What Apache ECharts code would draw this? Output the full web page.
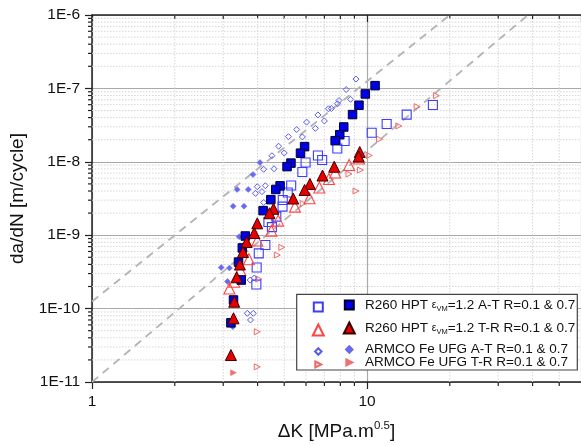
<!DOCTYPE html>
<html><head><meta charset="utf-8">
<script src="https://cdn.jsdelivr.net/npm/echarts@6/dist/echarts.min.js"></script>
<style>html,body{margin:0;padding:0;background:#fff}#c{width:581px;height:446px}</style>
</head><body><div id="c"></div>
<script>
// ---- data: [ΔK (MPa·m^0.5), da/dN (m/cycle)] ----
const R260_AT_filled = [[10.7,1.09e-7],[9.86,8.4e-8],[9.35,5.9e-8],[8.86,4.4e-8],[8.23,2.98e-8],[7.96,2.34e-8],[7.66,1.94e-8],[5.93,1.61e-8],[5.73,1.31e-8],[5.29,9.6e-9],[5.12,8.6e-9],[4.83,4.7e-9],[4.66,4.2e-9],[4.47,3.05e-9],[4.19,2.16e-9],[3.61,9.75e-10],[3.52,6.7e-10],[3.41,4.3e-10],[3.49,2.45e-10],[3.27,1.31e-10],[3.20,6.4e-11]];
const R260_AT_open = [[17.36,5.94e-8],[13.94,4.39e-8],[11.79,3.27e-8],[10.40,2.49e-8],[8.29,1.92e-8],[7.80,1.52e-8],[6.87,1.06e-8],[6.63,1.22e-8],[5.98,9.77e-9],[5.82,7.26e-9],[5.30,4.75e-9],[5.15,3.82e-9],[4.94,3.02e-9],[4.93,2.45e-9],[4.68,1.79e-9],[4.38,1.51e-9],[4.51,1.29e-9],[4.27,7.35e-10],[4.04,5.66e-10],[3.97,3.63e-10],[3.96,2.13e-10]];
const R260_TR_filled = [[9.41,1.36e-8],[9.33,1.18e-8],[7.60,8.57e-9],[6.89,6.5e-9],[6.20,4.99e-9],[5.93,4.13e-9],[5.39,3.16e-9],[4.57,2.29e-9],[4.42,1.99e-9],[3.99,1.45e-9],[3.89,1.07e-9],[3.65,8.07e-10],[3.54,5.9e-10],[3.45,3.99e-10],[3.36,2.67e-10],[3.29,1.24e-10],[3.27,7.38e-11],[3.20,2.33e-11]];
const R260_TR_open = [[9.35,1.11e-8],[8.61,9.04e-9],[7.66,7.15e-9],[7.27,5.83e-9],[6.71,4.47e-9],[6.18,3.19e-9],[5.47,2.45e-9],[4.75,1.58e-9],[4.49,1.15e-9],[3.99,8.47e-10],[3.72,4.7e-10],[3.46,3.36e-10],[3.29,2.32e-10],[3.16,1.88e-10]];
const ARMCO_AT_open = [[9.12,1.34e-7],[8.40,9.66e-8],[8.71,7.1e-8],[7.91,6.84e-8],[7.81,6.17e-8],[7.42,5.32e-8],[7.24,5.28e-8],[7.00,3.6e-8],[6.63,4.35e-8],[6.49,2.86e-8],[6.03,3.47e-8],[5.82,2.18e-8],[5.55,2.75e-8],[5.18,2.2e-8],[4.77,1.63e-8],[5.00,1.32e-8],[4.51,1.21e-8],[4.59,8.04e-9],[4.21,7.91e-9],[3.99,4.58e-9],[4.27,4.72e-9],[4.15,3.92e-9],[3.93,3.72e-9],[4.21,2.79e-9],[3.76,2.45e-10],[3.89,2.61e-10],[3.67,8.63e-11],[3.86,8.63e-11],[3.77,7.0e-11]];
const ARMCO_AT_filled = [[4.08,9.77e-9],[3.85,6.71e-9],[3.37,4.2e-9],[3.70,4.2e-9],[3.26,2.48e-9],[3.57,2.48e-9],[3.43,9.55e-10],[2.95,3.63e-10],[3.16,3.57e-10],[3.11,2.34e-10],[3.25,5.67e-11]];
const ARMCO_TR_open = [[17.88,7.96e-8],[15.22,5.64e-8],[13.05,3.08e-8],[11.11,2.03e-8],[10.19,1.22e-8],[9.42,1.06e-8],[9.46,7.73e-9],[8.60,6.82e-9],[9.12,4.0e-9],[5.86,2.7e-9],[4.90,6.84e-10],[4.72,5.37e-10],[4.04,2.53e-10],[3.99,4.84e-11],[3.99,1.61e-11]];
const ARMCO_TR_filled = [[3.27,1.34e-11]];
// guide lines (dashed)
const guideUpper = [[1,1.25e-10],[20,1e-6]];
const guideLower = [[1,1e-11],[38.5,1e-6]];
// axes
const X_MIN = 1, X_MAX = 60, Y_MIN = 1e-11, Y_MAX = 1e-6;
const xMinorTicks = [2,3,4,5,6,7,8,9,20,30,40,50];
const yMinorTicks = [];
[-11,-10,-9,-8,-7].forEach(e => { for (let m = 2; m <= 9; m++) yMinorTicks.push(m * Math.pow(10, e)); });

const FONT = 'Liberation Sans, Arial, sans-serif';
const AXIS_C = '#222';
const RIGHT_TRI = 'path://M0,0 L10,5 L0,10 Z';
const N = {
  atOpen: 'R260 A-T open', atFill: 'R260 A-T',
  trOpen: 'R260 T-R open', trFill: 'R260 T-R',
  aAtOpen: 'ARMCO A-T open', aAtFill: 'ARMCO A-T',
  aTrOpen: 'ARMCO T-R open', aTrFill: 'ARMCO T-R'
};
const legendText = {};
legendText[N.atFill] = '{t|R260 HPT }{e|ε}{s|VM}{t|=1.2 A-T R=0.1 & 0.7}';
legendText[N.trFill] = '{t|R260 HPT }{e|ε}{s|VM}{t|=1.2 T-R R=0.1 & 0.7}';
legendText[N.aAtFill] = '{t|ARMCO Fe UFG A-T R=0.1 & 0.7}';
legendText[N.aTrFill] = '{t|ARMCO Fe UFG T-R R=0.1 & 0.7}';

function minorXRender(params, api) {
  const v = api.value(0);
  const t = api.coord([v, Y_MAX]), b = api.coord([v, Y_MIN]);
  return {type: 'group', children: [
    {type: 'line', shape: {x1: t[0], y1: t[1], x2: b[0], y2: b[1]}, style: {stroke: '#d6d6d6', lineWidth: 1, lineDash: [1.5, 1.5]}},
    {type: 'line', shape: {x1: b[0], y1: b[1], x2: b[0], y2: b[1] + 4}, style: {stroke: AXIS_C, lineWidth: 1.2}},
    {type: 'line', shape: {x1: t[0], y1: t[1], x2: t[0], y2: t[1] + 4}, style: {stroke: AXIS_C, lineWidth: 1.2}}
  ]};
}
function minorYRender(params, api) {
  const v = api.value(1);
  const l = api.coord([X_MIN, v]), r = api.coord([X_MAX, v]);
  return {type: 'group', children: [
    {type: 'line', shape: {x1: l[0], y1: l[1], x2: r[0], y2: r[1]}, style: {stroke: '#d6d6d6', lineWidth: 1, lineDash: [1.5, 1.5]}},
    {type: 'line', shape: {x1: l[0] - 4, y1: l[1], x2: l[0], y2: l[1]}, style: {stroke: AXIS_C, lineWidth: 1.2}}
  ]};
}

function scatter(name, data, symbol, size, fill, border, bw, z, rotate) {
  return {type: 'scatter', name, data, symbol, symbolSize: size, symbolRotate: rotate || 0, z,
    itemStyle: {color: fill, borderColor: border, borderWidth: bw, opacity: 1}, emphasis: {disabled: true}};
}
const OPEN_X = 317.3, FILL_X = 348.3, TEXT_X = 364;
function legendOne(name, cx, cy, size, withText, icon) {
  const item = icon ? {name, icon} : {name};
  const th = 16;
  return {data: [item], left: cx - size / 2, top: withText ? cy - th / 2 : cy - size / 2,
    orient: 'horizontal', padding: 0, itemWidth: size, itemHeight: size,
    selectedMode: false, itemGap: 0, z: 20,
    formatter: withText ? (n => legendText[n]) : (() => ''),
    textStyle: {fontFamily: FONT, fontSize: 13.5, color: '#111', padding: [0, 0, 0, TEXT_X - cx - size / 2 - 5],
      rich: {t: {fontFamily: FONT, fontSize: 13.5, color: '#111'},
             e: {fontFamily: FONT, fontSize: 10.5, color: '#111'},
             s: {fontFamily: FONT, fontSize: 7.5, color: '#111', padding: [7, 0, 0, 0]}}}};
}

const rows = [306, 329, 350.5, 363.5];
const chart = echarts.init(document.getElementById('c'), null, {renderer: 'canvas'});
chart.setOption({
  animation: false,
  backgroundColor: '#fff',
  grid: {left: 92, top: 15, right: -8.35, bottom: 64, containLabel: false},
  xAxis: [{
    type: 'log', logBase: 10, min: X_MIN, max: X_MAX, interval: 1,
    name: '{a|ΔK [MPa.m}{b|0.5}{a|]}', nameLocation: 'middle', nameGap: 38,
    nameTextStyle: {rich: {a: {fontFamily: FONT, fontSize: 19, color: '#111'}, b: {fontFamily: FONT, fontSize: 11.5, color: '#111', padding: [0, 0, 11, 0]}}},
    axisLine: {show: true, lineStyle: {color: AXIS_C, width: 1.5}},
    axisTick: {show: true, inside: false, length: 7, lineStyle: {color: AXIS_C, width: 1.2}},
    axisLabel: {fontFamily: FONT, fontSize: 15.5, color: '#111', margin: 12, showMaxLabel: false, formatter: v => String(Math.round(v))},
    splitLine: {show: true, lineStyle: {color: '#a9a9a9', width: 1.2}},
    minorTick: {show: false}, minorSplitLine: {show: false}
  }, {
    type: 'log', logBase: 10, min: X_MIN, max: X_MAX, interval: 1, position: 'top',
    axisLine: {show: true, lineStyle: {color: AXIS_C, width: 1.5}},
    axisTick: {show: true, inside: true, length: 7, lineStyle: {color: AXIS_C, width: 1.2}},
    axisLabel: {show: false}, splitLine: {show: false}
  }],
  yAxis: {
    type: 'log', logBase: 10, min: Y_MIN, max: Y_MAX, interval: 1,
    name: 'da/dN [m/cycle]', nameLocation: 'middle', nameGap: 59, nameRotate: 90,
    nameTextStyle: {fontFamily: FONT, fontSize: 19, color: '#111'},
    axisLine: {show: true, lineStyle: {color: AXIS_C, width: 1.5}},
    axisTick: {show: true, inside: false, length: 7, lineStyle: {color: AXIS_C, width: 1.2}},
    axisLabel: {fontFamily: FONT, fontSize: 15.5, color: '#111', margin: 12,
      formatter: v => '1E' + Math.round(Math.log10(v))},
    splitLine: {show: true, lineStyle: {color: '#a9a9a9', width: 1.2}}
  },
  legend: [
    legendOne(N.atOpen, OPEN_X, rows[0], 9, false),
    legendOne(N.atFill, FILL_X, rows[0], 9, true),
    legendOne(N.trOpen, OPEN_X, rows[1], 11, false),
    legendOne(N.trFill, FILL_X, rows[1], 11, true),
    legendOne(N.aAtOpen, OPEN_X, rows[2], 6.5, false),
    legendOne(N.aAtFill, FILL_X, rows[2], 6.5, true),
    legendOne(N.aTrOpen, OPEN_X, rows[3], 6, false, RIGHT_TRI),
    legendOne(N.aTrFill, FILL_X, rows[3], 6, true, RIGHT_TRI)
  ],
  graphic: [{type: 'rect', shape: {x: 296.7, y: 294.3, width: 280.6, height: 75.7},
    style: {fill: '#fff', stroke: '#444', lineWidth: 1.2}, z: 3}],
  series: [
    {type: 'custom', name: 'minorX', data: xMinorTicks.map(v => [v, 1e-8]), renderItem: minorXRender, z: 1, clip: false, silent: true},
    {type: 'custom', name: 'minorY', data: yMinorTicks.map(v => [2, v]), renderItem: minorYRender, z: 1, clip: false, silent: true},
    {type: 'line', name: 'guideUpper', data: guideUpper, symbol: 'none', z: 2, silent: true,
      lineStyle: {color: '#b4b4b4', width: 1.8, type: [8, 6]}},
    {type: 'line', name: 'guideLower', data: guideLower, symbol: 'none', z: 2, silent: true,
      lineStyle: {color: '#b4b4b4', width: 1.8, type: [8, 6]}},
    scatter(N.aTrOpen, ARMCO_TR_open, 'triangle', 6, 'rgba(0,0,0,0)', '#f06a6a', 1, 3, -90),
    scatter(N.aTrFill, ARMCO_TR_filled, 'triangle', 6, '#f07070', '#f07070', 0.5, 3, -90),
    scatter(N.aAtOpen, ARMCO_AT_open, 'diamond', 6, 'rgba(0,0,0,0)', '#5a5af0', 1, 3),
    scatter(N.aAtFill, ARMCO_AT_filled, 'diamond', 6, '#6a6af0', '#6a6af0', 0.5, 3),
    scatter(N.atOpen, R260_AT_open, 'rect', 9, 'rgba(0,0,0,0)', '#3c3cff', 1.1, 4),
    scatter(N.trOpen, R260_TR_open, 'triangle', 11, 'rgba(0,0,0,0)', '#ff4444', 1.1, 4),
    scatter(N.atFill, R260_AT_filled, 'rect', 8.5, '#0000e8', '#000028', 1, 5),
    scatter(N.trFill, R260_TR_filled, 'triangle', 11, '#e80000', '#3a0000', 1, 6)
  ]
});
</script></body></html>
